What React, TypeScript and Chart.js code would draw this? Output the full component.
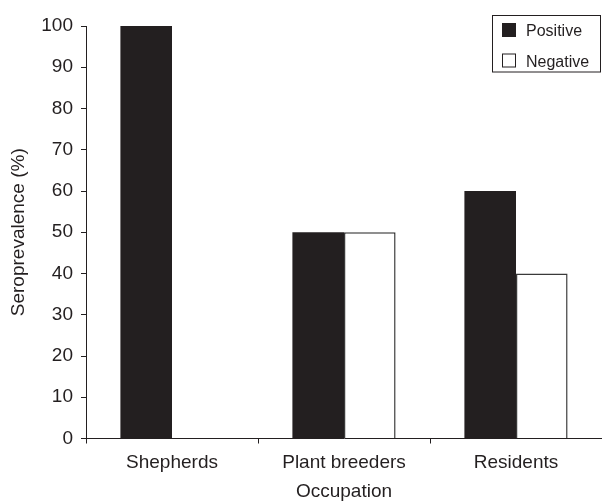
import React, { useEffect, useRef } from "react";
import { Chart, registerables } from "chart.js";

Chart.register(...registerables);

const categories = ["Shepherds", "Plant breeders", "Residents"];
const positiveValues = [100, 50, 60];
const negativeValues = [0, 50, 40];
const seriesLabels = ["Positive", "Negative"];

const INK = "#231f20";
const FONT = "'Liberation Sans', Arial, Helvetica, sans-serif";

const insideLegend = {
  id: "insideLegend",
  afterDraw(chart: any) {
    const { ctx, chartArea } = chart;
    const right = chartArea.right - 1.5;
    const top = chartArea.top - 10.5;
    const w = 108;
    const h = 56.5;
    const left = right - w;
    ctx.save();
    ctx.strokeStyle = INK;
    ctx.lineWidth = 1;
    ctx.fillStyle = "#ffffff";
    ctx.fillRect(left, top, w, h);
    ctx.strokeRect(left, top, w, h);
    const ds = chart.data.datasets;
    ctx.font = `16px ${FONT}`;
    ctx.textBaseline = "alphabetic";
    ds.forEach((d: any, i: number) => {
      const rowY = top + 14.5 + i * 30.5;
      const mx = left + 9.5;
      ctx.fillStyle = d.backgroundColor;
      ctx.fillRect(mx, rowY - 7, 14, 14);
      ctx.strokeStyle = INK;
      ctx.lineWidth = 1;
      ctx.strokeRect(mx + 0.5, rowY - 6.5, 13, 13);
      ctx.fillStyle = INK;
      ctx.fillText(d.label, left + 33.5, rowY + 6);
    });
    ctx.restore();
  },
};

export default function App() {
  const ref = useRef<HTMLCanvasElement | null>(null);

  useEffect(() => {
    if (!ref.current) return;
    const chart = new Chart(ref.current, {
      type: "bar",
      data: {
        labels: categories,
        datasets: [
          {
            label: seriesLabels[0],
            data: positiveValues,
            backgroundColor: INK,
            borderColor: INK,
            borderWidth: 0,
            categoryPercentage: 0.6,
            barPercentage: 1,
          },
          {
            label: seriesLabels[1],
            data: negativeValues,
            backgroundColor: "#ffffff",
            borderColor: "#3a3a3a",
            borderWidth: 1.5,
            borderSkipped: "start",
            categoryPercentage: 0.6,
            barPercentage: 1,
          },
        ],
      },
      options: {
        animation: false,
        responsive: true,
        maintainAspectRatio: false,
        layout: { padding: { top: 26, left: 0, right: 0, bottom: 0 } },
        plugins: {
          legend: { display: false },
          tooltip: { enabled: false },
        },
        scales: {
          x: {
            offset: true,
            grid: {
              offset: true,
              drawOnChartArea: false,
              drawTicks: true,
              tickLength: 5,
              color: INK,
            },
            border: { display: true, color: INK, width: 1 },
            ticks: {
              color: INK,
              font: { family: FONT, size: 19 },
              padding: 8,
              maxRotation: 0,
            },
            title: {
              display: true,
              text: "Occupation",
              color: INK,
              font: { family: FONT, size: 19 },
              padding: { top: 0, bottom: 0 },
            },
            afterFit: (scale: any) => {
              scale.height = 64.5;
            },
          },
          y: {
            min: 0,
            max: 100,
            ticks: {
              stepSize: 10,
              color: INK,
              font: { family: FONT, size: 19 },
              padding: 8,
            },
            grid: {
              drawOnChartArea: false,
              drawTicks: true,
              tickLength: 5,
              color: INK,
            },
            border: { display: true, color: INK, width: 1 },
            title: {
              display: true,
              text: "Seroprevalence (%)",
              color: INK,
              font: { family: FONT, size: 19 },
              padding: { top: 7, bottom: 0 },
            },
            afterFit: (scale: any) => {
              scale.width = 86;
            },
          },
        },
      },
      plugins: [insideLegend],
    });
    return () => chart.destroy();
  }, []);

  return (
    <div style={{ position: "fixed", left: 0, top: 0, width: 602, height: 503, background: "#fff" }}>
      <canvas ref={ref} />
    </div>
  );
}
